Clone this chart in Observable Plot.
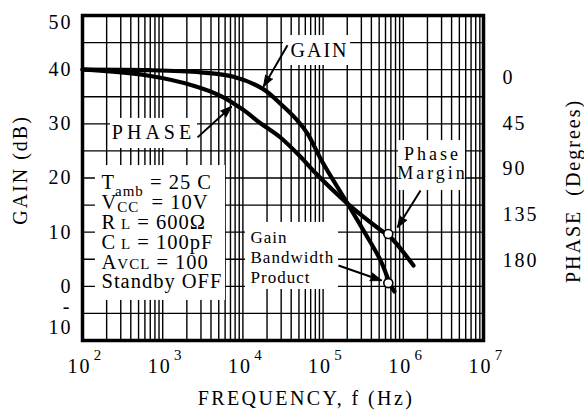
<!DOCTYPE html>
<html><head><meta charset="utf-8">
<script src="https://cdn.jsdelivr.net/npm/d3@7"></script>
<script src="https://cdn.jsdelivr.net/npm/@observablehq/plot@0.6"></script>
<style>
html,body{margin:0;padding:0;background:#fff;}
#chart svg text{letter-spacing:2px;}
</style>
</head><body><div id="chart"></div>
<script>
// ---- data ----
const gainFreq = [100, 705, 2960, 7640, 17550, 32050, 47950, 63900, 98400, 201500, 319000, 520000, 692000, 776000];
const gainDb   = [40.0, 39.9, 39.5, 38.7, 36.5, 33.2, 30.6, 28.2, 22.9, 15.3, 10.3, 4.8, 0.3, -0.95];
const phaseFreq = [100, 646, 2420, 5260, 10170, 16560, 29400, 52300, 75900, 201500, 520000, 692000, 1340000];
const phaseDeg  = [-8, -2, 8, 18, 32, 45, 59, 78, 92, 124, 150, 157, 185];
const gainTicks = [50, 40, 30, 20, 10, 0, -10];
const phaseTicks = [0, 45, 90, 135, 180];
const decadeExp = [2, 3, 4, 5, 6, 7];
const markerFreq = 650000, markerGain = 0.6, markerPhase = 154;
const conditionLines = [
  [["T"], ["amb", "sub"], [" = 25 C"]],
  [["V"], ["CC", "sub2"], ["  = 10V"]],
  [["R"], [" L", "small"], [" = 600Ω"]],
  [["C"], [" L", "small"], [" = 100pF"]],
  [["A"], ["VCL", "small"], [" = 100"]],
  [["Standby OFF"]]
];

// phase (degrees) drawn on the gain (dB) scale of the right axis
const phaseToDb = p => 38.55 - p * 0.18767;

const gainData = gainFreq.map((f, i) => ({f, v: gainDb[i]}));
const phaseData = phaseFreq.map((f, i) => ({f, v: phaseToDb(phaseDeg[i])}));
const xGrid = [];
for (let e = 2; e < 7; e++) for (let m = 1; m <= 9; m++) xGrid.push(m * 10 ** e);
xGrid.push(1e7);
const yGrid = d3.range(-10, 51, 5);

// annotation boxes / arrows (data units)
const boxes = [
  {x1: 32050, x2: 219800, y1: 40.77, y2: 46.3},
  {x1: 223, x2: 2720, y1: 25.45, y2: 31.0},
  {x1: 145, x2: 6070, y1: -2.6, y2: 22.3},
  {x1: 871000, x2: 5.97e6, y1: 17.7, y2: 26.9},
  {x1: 10770, x2: 155600, y1: -0.58, y2: 11.8}
];
const arrows = [
  {x1: 36000, y1: 44.5, x2: 18100, y2: 36.9},
  {x1: 2720, y1: 27.5, x2: 7210, y2: 33.2},
  {x1: 1.64e6, y1: 17.7, x2: 847000, y2: 10.9},
  {x1: 155600, y1: 3.85, x2: 535000, y2: 1.08}
];

const W = 584, H = 414, ML = 82, MR = 101, MT = 15, MB = 74;
// same mappings Plot uses, only to orient the filled arrowheads
const sx = d3.scaleLog([1e2, 1e7], [ML, W - MR]);
const sy = d3.scaleLinear([-10, 50], [H - MB, MT]);
const headAngle = a => Math.atan2(sx(a.x2) - sx(a.x1), -(sy(a.y2) - sy(a.y1))) * 180 / Math.PI;

const font = "'Liberation Serif','Times New Roman',Times,serif";
const svg = Plot.plot({
  width: W, height: H,
  marginLeft: ML, marginRight: MR, marginTop: MT, marginBottom: MB,
  x: {type: "log", domain: [1e2, 1e7], axis: null},
  y: {domain: [-10, 50], axis: null},
  style: {fontFamily: font, background: "#fff", color: "#000", overflow: "visible"},
  marks: [
    Plot.ruleX(xGrid, {stroke: "#000", strokeWidth: 1.4}),
    Plot.ruleY(yGrid, {stroke: "#000", strokeWidth: 1.4}),
    Plot.rect(boxes, {x1: "x1", x2: "x2", y1: "y1", y2: "y2", fill: "#fff"}),
    Plot.line(gainData, {x: "f", y: "v", stroke: "#000", strokeWidth: 4.2, curve: "catmull-rom", strokeLinecap: "round"}),
    Plot.line(phaseData, {x: "f", y: "v", stroke: "#000", strokeWidth: 4.2, curve: "catmull-rom", strokeLinecap: "round"}),
    Plot.link(arrows, {x1: "x1", y1: "y1", x2: "x2", y2: "y2", stroke: "#000", strokeWidth: 2}),
    Plot.vector(arrows, {x: "x2", y: "y2", rotate: headAngle, length: 11, shape: "spike", r: 4,
      anchor: "end", fill: "#000", stroke: "#000", strokeWidth: 1}),
    Plot.dot([{f: markerFreq, v: markerGain}, {f: markerFreq, v: phaseToDb(markerPhase)}],
      {x: "f", y: "v", r: 4.5, fill: "#fff", stroke: "#000", strokeWidth: 1.6}),
    // labels in the plot
    Plot.text(["GAIN"], {x: 90200, y: 43.5, text: d => d, fontSize: 20}),
    Plot.text(["PHASE"], {x: 768, y: 28.4, text: d => d, fontSize: 20}),
    Plot.text(conditionLines, {x: 172.5, y: (d, i) => 19.1 - 3.65 * i, text: d => d.map(s => s[0]).join(""),
      textAnchor: "start", fontSize: 20.5}),
    Plot.text(["Gain\nBandwidth\nProduct"], {x: 12450, y: 5.5, text: d => d, textAnchor: "start",
      fontSize: 17, lineHeight: 1.18}),
    Plot.text(["Phase\nMargin"], {x: 2.31e6, y: 22.77, text: d => d, fontSize: 18, lineHeight: 1.06}),
    // left axis labels
    Plot.text(gainTicks.filter(v => v !== 50 && v !== -10), {frameAnchor: "left", y: d => d, text: d => String(d),
      textAnchor: "end", dx: -10, fontSize: 20}),
    Plot.text([50], {frameAnchor: "left", y: d => d, text: d => String(d), textAnchor: "end", dx: -10, dy: 7, fontSize: 20}),
    Plot.text([-10], {frameAnchor: "left", y: d => d, text: () => "10", textAnchor: "end", dx: -10, dy: -13, fontSize: 20}),
    Plot.text([-10], {frameAnchor: "left", y: d => d, text: () => "-", textAnchor: "end", dx: -11, dy: -34, fontSize: 20}),
    // right axis labels
    Plot.text(phaseTicks, {frameAnchor: "right", y: d => phaseToDb(d), text: d => String(d), textAnchor: "start", dx: 19, fontSize: 20}),
    // bottom axis labels
    Plot.text(decadeExp, {x: e => 10 ** e, frameAnchor: "bottom", text: () => "10", dx: -3, dy: 32, fontSize: 20}),
    Plot.text(decadeExp, {x: e => 10 ** e, frameAnchor: "bottom", text: e => String(e), dx: 16, dy: 19, fontSize: 15}),
    // axis titles (rotated: positioned with scale values, no offsets)
    Plot.text(["GAIN (dB)"], {x: 16.85, y: 21.48, text: d => d, rotate: -90, fontSize: 20}),
    Plot.text(["PHASE  (Degrees)"], {x: 1.32e8, y: 17.6, text: d => d, rotate: -90, fontSize: 20}),
    Plot.text(["FREQUENCY, f (Hz)"], {frameAnchor: "bottom", text: d => d, dx: 23, dy: 64, fontSize: 20}),
    Plot.frame({stroke: "#000", strokeWidth: 3.5})
  ]
});

// rich text (subscripts) and letter spacing, matched by content
const joined = conditionLines.map(l => l.map(s => s[0]).join(""));
const spacing = {"PHASE": 4, "PhaseMargin": 3, "GainBandwidthProduct": 1, "FREQUENCY, f (Hz)": 2.4};
d3.select(svg).selectAll("text").each(function () {
  const content = this.textContent;
  const i = joined.indexOf(content);
  if (i >= 0) {
    const el = d3.select(this);
    el.style("letter-spacing", "1px");
    el.text(null);
    let shift = 0;
    for (const [t, kind] of conditionLines[i]) {
      const ts = el.append("tspan").text(t);
      const target = kind === "sub" ? 7 : kind === "sub2" ? 3 : 0;
      if (target !== shift) { ts.attr("dy", target - shift); shift = target; }
      if (kind) ts.attr("font-size", 15);
    }
  } else if (content in spacing) {
    this.style.letterSpacing = spacing[content] + "px";
  }
});

document.getElementById("chart").append(svg);
</script>
</body></html>
